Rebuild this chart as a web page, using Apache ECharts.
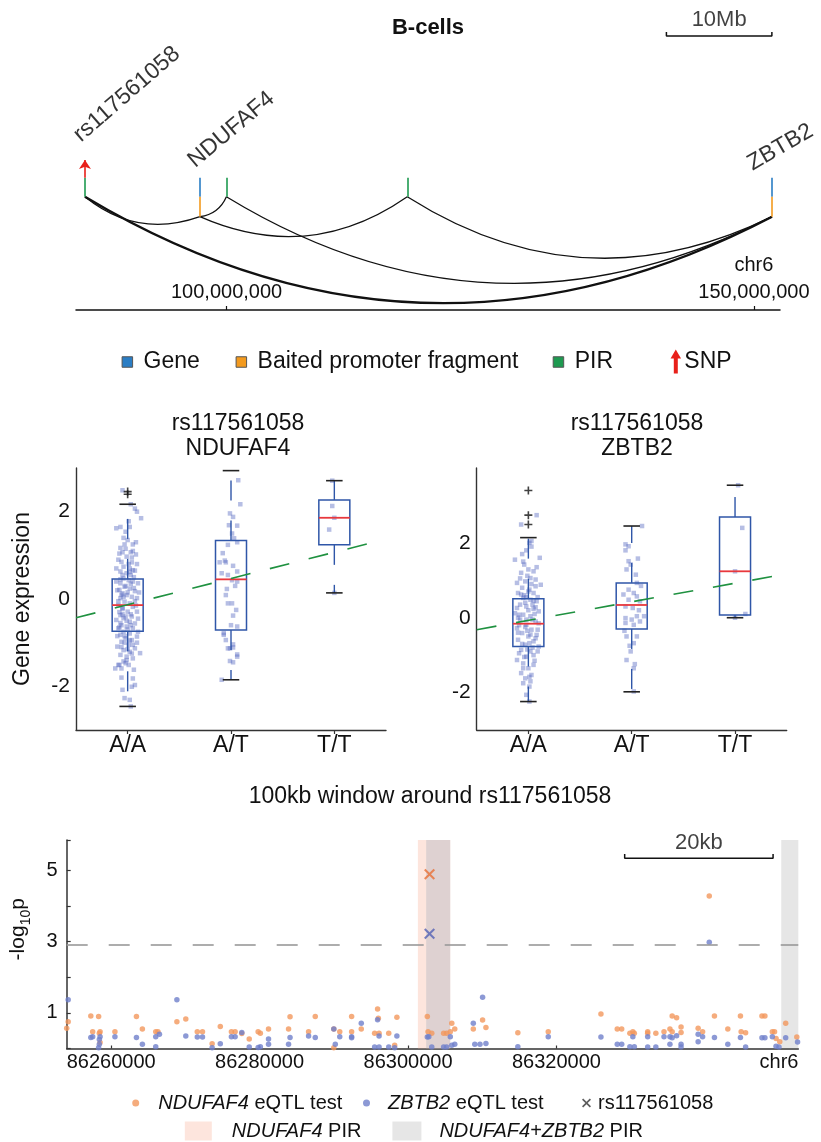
<!DOCTYPE html>
<html>
<head>
<meta charset="utf-8">
<script src="https://cdn.jsdelivr.net/npm/echarts@6/dist/echarts.min.js"></script>
<style>
  html, body { margin: 0; padding: 0; background: #fff; }
  #chart { width: 821px; height: 1142px; }
</style>
</head>
<body>
<div id="chart"></div>
<script>
// ---------- Capture Hi-C interactions on chr6 (B-cells) ----------
const snpId = 'rs117561058';
const chromRange = [85720000, 152470000];
const chromTicks = [100000000, 150000000];
const snpFragmentPos = 86570000;
const ndufaf4Pos = 97470000;
const zbtb2Pos = 151710000;
const pirPositions = [99980000, 117130000];
const baitedPositions = [ndufaf4Pos, zbtb2Pos];
// promoter-interacting pairs [left end, right end]
const interactions = [
  [snpFragmentPos, ndufaf4Pos],
  [ndufaf4Pos, pirPositions[0]],
  [ndufaf4Pos, pirPositions[1]],
  [pirPositions[0], zbtb2Pos],
  [pirPositions[1], zbtb2Pos],
  [snpFragmentPos, zbtb2Pos]
];
const interactionWidths = [1.3, 1.3, 1.3, 1.3, 1.3, 2.4];
const scaleBarChrom = [141700000, 151700000];

// ---------- eQTL box plots ----------
const genotypes = ['A/A', 'A/T', 'T/T'];
// per genotype: [lower adjacent, q1, median, q3, upper adjacent]
const ndufaf4Box = [
  [-2.46, -0.74, -0.14, 0.46, 2.17],
  [-1.85, -0.71, 0.45, 1.34, 2.94],
  [0.14, 1.24, 1.86, 2.27, 2.71]
];
const zbtb2Box = [
  [-2.24, -0.77, -0.16, 0.51, 2.14],
  [-1.98, -0.30, 0.34, 0.93, 2.45],
  [0.00, 0.07, 1.24, 2.69, 3.54]
];
// outliers as [genotype index, value]
const ndufaf4Outliers = [[0, 2.46], [0, 2.40]];
const zbtb2Outliers = [[0, 3.40], [0, 2.74], [0, 2.49]];
// linear fit, values at the left and right edge of the plot
const ndufaf4Fit = [-0.43, 1.37];
const zbtb2Fit = [-0.32, 1.17];

// individual samples per genotype as [jitter, expression]
const ndufaf4Samples = [
  [[-0.05,2.49],[0.03,2.17],[0.07,2.07],[0.09,2.00],[0.13,1.85],[-0.11,1.62],[-0.07,1.65],[0.02,1.65],[-0.02,1.54],[0.00,1.35],
   [0.05,1.25],[-0.07,1.17],[-0.03,1.25],[-0.08,1.04],[-0.05,1.07],[0.03,1.07],[0.08,1.02],[-0.01,0.97],[-0.06,0.85],[0.04,0.84],
   [-0.04,0.74],[0.02,0.70],[0.05,0.66],[-0.07,0.63],[-0.01,0.59],[0.03,0.55],[-0.04,0.47],[0.01,0.43],[-0.11,0.40],[-0.07,0.36],
   [0.05,0.40],[0.10,0.36],[-0.03,0.28],[0.02,0.24],[-0.08,0.21],[0.07,0.18],[-0.05,0.13],[-0.01,0.09],[0.04,0.05],[-0.07,0.02],
   [0.09,0.02],[-0.03,-0.06],[0.02,-0.10],[-0.09,-0.14],[0.05,-0.18],[-0.05,-0.23],[0.00,-0.29],[0.09,-0.29],[-0.07,-0.37],[0.04,-0.40],
   [-0.04,-0.44],[-0.11,-0.48],[0.02,-0.52],[0.07,-0.56],[-0.06,-0.60],[-0.01,-0.63],[-0.09,-0.67],[0.05,-0.67],[-0.04,-0.75],[0.02,-0.79],
   [-0.07,-0.82],[0.09,-0.86],[-0.02,-0.90],[0.04,-0.94],[-0.06,-0.98],[0.01,-1.05],[-0.10,-1.09],[0.07,-1.13],[-0.04,-1.17],[0.02,-1.21],
   [-0.07,-1.28],[-0.01,-1.32],[0.12,-1.24],[0.05,-1.36],[-0.04,-1.43],[-0.08,-1.51],[0.01,-1.51],[-0.06,-1.59],[-0.02,-1.47],[0.05,-1.82],
   [0.04,-2.01],[0.07,-1.97],[-0.05,-2.08],[-0.03,-2.27],[0.02,-2.31],[0.03,-2.46],[-0.09,-1.51],[-0.12,-1.59],
   [-0.02,0.30],[0.06,0.50],[-0.09,0.90],[0.08,1.30],[-0.05,-0.20],[0.03,-0.35],[-0.10,-0.85],[0.10,-0.45],[0.00,-0.70],[-0.06,0.10],
   [0.11,0.15],[-0.03,-1.00],[0.05,-1.05],[-0.08,-0.30],[0.02,0.62],[-0.04,1.40],[0.01,1.78],[-0.11,0.70],[0.09,0.80],[-0.01,-1.40],
   [0.06,-1.62],[-0.06,-1.80],[0.04,0.95],[-0.07,-0.55],[0.07,-0.05],
   [0.00,0.15],[-0.02,-0.40],[0.03,-0.60],[-0.05,0.55],[0.06,0.25],[-0.09,-0.05],[0.10,-0.75],[-0.03,-0.85],[0.01,0.80],[-0.06,-1.10],
   [0.04,-1.25],[-0.10,0.20],[0.08,-0.15],[-0.01,-0.50],[0.05,1.10],[-0.07,0.45],[0.02,-0.95],[-0.04,0.05],[0.07,0.65],[-0.08,-0.65],
   [0.00,-1.15],[0.03,0.35],[-0.05,-0.35],[0.09,-1.00],[-0.02,1.15]],
  [[0.07,2.72],[0.09,2.17],[-0.01,1.96],[0.02,1.88],[-0.02,1.69],[0.06,1.68],[0.01,1.50],[0.03,1.39],[0.06,1.30],[-0.03,1.24],
   [-0.11,0.84],[-0.05,0.84],[0.02,0.76],[-0.09,0.59],[-0.03,0.55],[0.06,0.63],[0.01,0.43],[0.06,0.40],[-0.04,0.23],[-0.05,0.09],
   [-0.03,-0.10],[0.01,-0.10],[0.02,-0.38],[0.00,-0.60],[-0.07,-0.82],[-0.05,-0.94],[-0.01,-1.13],[0.02,-1.11],[0.06,-1.32],[-0.03,-1.13],
   [0.02,-1.45],[-0.09,-1.85],[-0.06,0.88],[0.06,-0.63],[-0.07,-0.78],[0.02,-1.04],[0.06,-1.27],[-0.01,-1.42],[0.04,0.30],[-0.08,1.05],
   [0.05,-0.25]],
  [[-0.02,2.71],[-0.02,2.13],[-0.05,1.59],[0.00,1.86],[0.00,0.14]]
];
const zbtb2Samples = [
  [[0.08,2.74],[-0.07,2.49],[0.03,2.05],[0.01,2.00],[-0.02,1.80],[-0.13,1.55],[0.11,1.60],[-0.04,1.42],[0.00,1.29],[0.05,1.24],
   [-0.07,1.20],[0.02,1.06],[-0.11,0.93],[-0.03,0.97],[0.07,1.02],[0.12,0.88],[-0.06,0.80],[0.01,0.75],[-0.10,0.66],[0.05,0.66],
   [-0.05,0.53],[0.02,0.48],[0.08,0.44],[-0.08,0.35],[-0.02,0.30],[-0.11,0.26],[0.05,0.24],[0.10,0.17],[-0.05,0.08],[0.02,0.04],
   [-0.08,-0.05],[0.07,-0.10],[-0.02,-0.19],[-0.11,-0.28],[0.03,-0.32],[-0.06,-0.41],[0.08,-0.46],[0.00,-0.50],[-0.10,-0.59],[0.05,-0.63],
   [-0.03,-0.72],[0.10,-0.77],[-0.07,-0.86],[0.02,-0.90],[-0.02,-1.04],[-0.11,-1.13],[-0.05,-1.22],[0.05,-1.26],[0.00,-1.35],[-0.07,-1.48],
   [0.03,-1.53],[-0.03,-1.62],[-0.05,-1.75],[0.01,-1.84],[-0.02,-2.06],[0.01,-2.24],[0.07,0.84],[-0.09,0.08],[0.09,-0.32],[-0.13,0.12],
   [-0.04,0.60],[0.06,0.10],[-0.01,-0.35],[0.04,-0.80],[-0.09,-0.95],[0.08,1.35],[-0.06,1.70],[0.02,-1.70],[0.10,-0.15],[-0.03,0.40],
   [0.05,-1.00],[-0.10,-0.40],[0.00,0.70],[0.07,-0.55],[-0.05,-1.35],[0.03,1.90],[-0.02,-0.05],[0.09,0.55],[-0.08,1.05],[0.01,-0.68],
   [0.00,0.20],[-0.03,-0.25],[0.04,0.35],[-0.06,-0.70],[0.06,-1.15],[-0.01,1.12],[0.02,-0.45],[-0.07,0.62],[0.09,-0.90],[-0.04,-1.05],
   [0.03,0.90],[-0.09,-0.20],[0.05,0.45],[-0.01,-0.85],[0.07,0.28],[-0.05,1.50],[0.01,-1.58],[-0.10,0.00],[0.04,-0.05],[-0.02,0.55]],
  [[0.10,2.45],[-0.06,1.96],[-0.03,1.91],[-0.06,1.80],[0.06,1.58],[-0.03,1.51],[-0.01,1.42],[-0.05,1.29],[0.05,0.93],[-0.08,0.62],
   [0.02,0.66],[0.05,0.57],[-0.03,0.48],[0.08,0.44],[-0.06,0.30],[0.01,0.26],[0.12,0.04],[0.05,0.04],[-0.06,-0.01],[0.00,-0.05],
   [0.08,-0.10],[-0.06,-0.14],[0.02,-0.19],[-0.05,-0.50],[0.05,-0.50],[0.02,-0.68],[-0.01,-0.90],[-0.05,-1.13],[0.03,-1.24],[0.02,-1.35],
   [0.02,-1.97],[-0.03,0.75],[0.04,1.15],[-0.07,-0.35],[0.07,0.20],[-0.02,-0.75],[0.09,0.85]],
  [[0.03,3.54],[0.07,2.40],[0.10,0.10],[0.00,0.00],[0.00,1.24]]
];

// ---------- 100kb window around the SNP ----------
const windowRange = [86254000, 86352600];
const windowTicks = [86260000, 86280000, 86300000, 86320000];
const chrLabelPos = 86350000;
const snpPos = 86302900;
const snpNdufaf4P = 4.89;
const snpZbtb2P = 3.22;
const significance = 2.91;
const ndufaf4PirRegion = [86301330, 86305690];
const sharedPirRegions = [[86302450, 86305690], [86350300, 86352600]];
const scaleBarWindow = [86329200, 86349200];
// [position, -log10 p]
const ndufaf4Tests = [
  [86254200,0.75],[86254000,0.57],[86257250,0.91],[86258300,0.90],[86257500,0.47],[86258500,0.47],[86258400,0.43],[86258500,0.17],
  [86260500,0.47],[86263400,0.90],[86264200,0.55],[86266000,0.47],[86266300,0.47],[86268850,0.75],[86270050,0.83],[86271600,0.47],
  [86272300,0.47],[86273600,0.13],[86274700,0.62],[86276200,0.47],[86276700,0.47],[86277600,0.42],[86278600,0.27],[86279800,0.47],
  [86280100,0.43],[86281200,0.55],[86283900,0.55],[86284100,0.89],[86286600,0.47],[86287500,0.90],[86290000,0.55],[86290000,0.02],
  [86290800,0.47],[86292400,0.90],[86292400,0.47],[86293700,0.55],[86295900,1.11],[86296000,0.85],[86295500,0.43],[86296100,0.43],
  [86297400,0.43],[86298200,0.09],[86298500,0.88],[86302600,0.90],[86302700,0.47],[86303200,0.43],[86304800,0.43],[86305200,0.43],
  [86305700,0.47],[86305900,0.71],[86306300,0.55],[86308800,0.55],[86310050,0.80],[86310500,0.59],[86314800,0.44],[86318900,0.47],
  [86326000,0.97],[86328200,0.55],[86328800,0.55],[86329900,0.43],[86330300,0.47],[86330500,0.43],[86332300,0.47],[86332300,0.43],
  [86333400,0.43],[86334500,0.47],[86335300,0.55],[86335600,0.47],[86335600,0.91],[86336200,0.86],[86336800,0.60],[86336800,0.45],
  [86339100,0.57],[86339700,0.47],[86340600,4.28],[86341300,0.91],[86343100,0.55],[86344800,0.91],[86344900,0.47],[86345500,0.44],
  [86347700,0.91],[86348100,0.91],[86349100,0.47],[86349400,0.47],[86349600,0.28],[86350100,0.19],[86350900,0.71],[86352400,0.32]
];
const zbtb2Tests = [
  [86254200,1.37],[86257250,0.31],[86257500,0.33],[86258500,0.33],[86258400,0.25],[86258400,0.12],[86258300,0.02],[86260500,0.33],
  [86263400,0.31],[86264200,0.12],[86266000,0.33],[86266500,0.40],[86266000,0.05],[86268850,1.37],[86270050,0.35],[86271600,0.32],
  [86272300,0.32],[86273600,0.02],[86274700,0.13],[86276200,0.33],[86276700,0.33],[86277600,0.45],[86278600,0.04],[86280100,0.05],
  [86279800,0.03],[86281200,0.27],[86281200,0.12],[86284100,0.31],[86283900,0.12],[86286600,0.35],[86287500,0.31],[86290000,0.55],
  [86290200,0.12],[86290800,0.33],[86292400,0.33],[86292400,0.30],[86293700,0.71],[86295900,0.81],[86296100,0.35],[86295500,0.04],
  [86296100,0.04],[86297400,0.04],[86298200,0.02],[86298500,0.35],[86302600,0.32],[86302800,0.33],[86303200,0.04],[86304800,0.04],
  [86305200,0.04],[86305700,0.33],[86305900,0.09],[86306300,0.12],[86308800,0.71],[86309000,0.12],[86309700,0.12],[86310500,0.14],
  [86310050,1.44],[86314800,0.05],[86318900,0.33],[86326000,0.32],[86328200,0.12],[86328800,0.12],[86330300,0.33],[86329900,0.05],
  [86330500,0.05],[86332300,0.33],[86332300,0.04],[86333400,0.04],[86334500,0.33],[86335300,0.33],[86335600,0.30],[86336200,0.36],
  [86335300,0.12],[86336800,0.12],[86336800,0.04],[86339100,0.40],[86339100,0.19],[86339700,0.33],[86340600,2.98],[86341300,0.31],
  [86343100,0.12],[86344800,0.31],[86345500,0.04],[86347700,0.30],[86348100,0.30],[86349100,0.33],[86349600,0.06],[86350000,0.04],
  [86350900,0.30],[86352500,0.18]
];

// ---------- styling ----------
const FONT = "'Liberation Sans', Arial, Helvetica, sans-serif";
const TEXT = '#111';
const AXIS = '#333';
const GENE_BLUE = '#2a7dc4';
const BAIT_ORANGE = '#f39a1e';
const PIR_GREEN = '#1e9a50';
const SNP_RED = '#e8201a';
const BOX_BLUE = '#2f56a8';
const MEDIAN_RED = '#e8383d';
const CAP_COLOR = '#222';
const FIT_GREEN = '#1f9140';
const SAMPLE_COLOR = 'rgba(72,92,188,0.5)';
const TEST_ORANGE = '#f3975d';
const TEST_BLUE = '#6f7fca';
const X_ORANGE = '#e86f35';
const X_BLUE = '#5462b5';
const BOX_WIDTH = 0.3;
const CAP_WIDTH = 0.16;
// vertical levels of the interaction track (grid 0, 10 px per unit)
const TRACK = { top: 13.23, mid: 11.33, bottom: 9.33, arrow: 15.0, label: 13.8, snpLabel: 16.3, bar: 27.4, barTick: 27.8 };

const PLUS = 'path://M4,0H6V4H10V6H6V10H4V6H0V4H4Z';
const CROSS = 'path://M0,1.3L1.3,0L5,3.7L8.7,0L10,1.3L6.3,5L10,8.7L8.7,10L5,6.3L1.3,10L0,8.7L3.7,5Z';
const ARROW = 'path://M3.5,0L7,6H4.5V21H2.5V6H0Z';

const anchorLevel = (p) => (baitedPositions.indexOf(p) >= 0 ? TRACK.bottom : TRACK.mid);
const withCommas = (v) => String(v).replace(/\B(?=(\d{3})+(?!\d))/g, ',');

function markerLines(name, positions, from, to, color, extra) {
  return Object.assign({
    name, type: 'lines', coordinateSystem: 'cartesian2d', xAxisIndex: 0, yAxisIndex: 0, z: 4, silent: true,
    lineStyle: { color, width: 1.6, curveness: 0, opacity: 1 },
    data: positions.map((p) => ({ coords: [[p, from], [p, to]] }))
  }, extra || {});
}

function boxSeries(stats, idx) {
  return {
    type: 'custom', xAxisIndex: idx, yAxisIndex: idx, z: 4, silent: true,
    data: stats.map((s, g) => [g].concat(s)),
    encode: { x: 0, y: [1, 2, 3, 4, 5] },
    renderItem: function (params, api) {
      const g = api.value(0);
      const lo = api.coord([g, api.value(1)]);
      const q1 = api.coord([g, api.value(2)]);
      const med = api.coord([g, api.value(3)]);
      const q3 = api.coord([g, api.value(4)]);
      const hi = api.coord([g, api.value(5)]);
      const hb = api.size([BOX_WIDTH, 0])[0] / 2;
      const hc = api.size([CAP_WIDTH, 0])[0] / 2;
      const x = q1[0];
      const whisker = { stroke: BOX_BLUE, lineWidth: 1.4, lineDash: [20, 20], fill: null };
      const cap = { stroke: CAP_COLOR, lineWidth: 1.6, fill: null };
      return {
        type: 'group',
        children: [
          { type: 'line', shape: { x1: x, y1: q3[1], x2: x, y2: hi[1] }, style: whisker },
          { type: 'line', shape: { x1: x, y1: q1[1], x2: x, y2: lo[1] }, style: whisker },
          { type: 'line', shape: { x1: x - hc, y1: hi[1], x2: x + hc, y2: hi[1] }, style: cap },
          { type: 'line', shape: { x1: x - hc, y1: lo[1], x2: x + hc, y2: lo[1] }, style: cap },
          { type: 'rect', shape: { x: x - hb, y: q3[1], width: hb * 2, height: q1[1] - q3[1] },
            style: { fill: 'transparent', stroke: BOX_BLUE, lineWidth: 1.5 } },
          { type: 'line', shape: { x1: x - hb, y1: med[1], x2: x + hb, y2: med[1] },
            style: { stroke: MEDIAN_RED, lineWidth: 1.8, fill: null } }
        ]
      };
    }
  };
}

function expressionSeries(samples, box, outliers, fit, idx) {
  return [
    {
      type: 'scatter', xAxisIndex: idx, yAxisIndex: idx, z: 2, silent: true,
      symbol: 'rect', symbolSize: 4.5, itemStyle: { color: SAMPLE_COLOR },
      data: samples.flatMap((pts, g) => pts.map(([j, v]) => [g + j, v]))
    },
    boxSeries(box, idx),
    {
      type: 'scatter', xAxisIndex: idx, yAxisIndex: idx, z: 5, silent: true,
      symbol: PLUS, symbolSize: 8, itemStyle: { color: '#111' }, data: outliers
    },
    {
      type: 'line', xAxisIndex: idx, yAxisIndex: idx, z: 6, silent: true, symbol: 'none',
      lineStyle: { color: FIT_GREEN, width: 1.6, type: [20, 20] },
      data: [[-0.5, fit[0]], [2.5, fit[1]]]
    }
  ];
}

function genotypeXAxis(idx) {
  return {
    type: 'value', gridIndex: idx, min: -0.5, max: 2.5,
    axisLine: { show: true, onZero: false, lineStyle: { color: AXIS, width: 1.4 } },
    axisTick: { show: true, customValues: [0, 1, 2], length: 4, lineStyle: { color: AXIS, width: 1.2 } },
    axisLabel: { customValues: [0, 1, 2], formatter: (v) => genotypes[v], fontSize: 23, color: TEXT, margin: 4, fontFamily: FONT },
    splitLine: { show: false }
  };
}

function expressionYAxis(idx, max, extra) {
  return Object.assign({
    type: 'value', gridIndex: idx, min: -3, max: max,
    axisLine: { show: true, onZero: false, lineStyle: { color: AXIS, width: 1.4 } },
    axisTick: { show: false },
    axisLabel: { customValues: [-2, 0, 2], fontSize: 21, color: TEXT, margin: 6, fontFamily: FONT },
    splitLine: { show: false }
  }, extra || {});
}

function legendEntry(name, left, top, cfg) {
  return {
    left, top, padding: 0, itemGap: 0, selectedMode: false, orient: 'horizontal',
    itemWidth: cfg.w, itemHeight: cfg.h, symbolKeepAspect: false,
    data: [{ name, icon: cfg.icon, itemStyle: cfg.itemStyle }],
    formatter: cfg.formatter,
    textStyle: {
      fontSize: cfg.fontSize, color: TEXT, fontFamily: FONT, lineHeight: cfg.lh,
      padding: [0, 0, 0, cfg.gap],
      rich: { i: { fontStyle: 'italic', fontSize: cfg.fontSize, fontFamily: FONT, color: TEXT, lineHeight: cfg.lh } }
    }
  };
}
const italicGenes = (name) => name.replace(/(NDUFAF4|ZBTB2)/g, '{i|$1}');
const square = (color) => ({ icon: 'rect', w: 10.5, h: 10.5, fontSize: 23, lh: 24, gap: 6,
  itemStyle: { color, borderColor: '#555', borderWidth: 1 } });

const option = {
  animation: false,
  backgroundColor: '#fff',
  textStyle: { fontFamily: FONT, color: TEXT },
  graphic: [
    { type: 'text', x: 428, y: 28, silent: true,
      style: { text: 'B-cells', fill: TEXT, font: 'bold 22px ' + FONT, align: 'center', verticalAlign: 'middle' } },
    { type: 'text', x: 238, y: 436, silent: true,
      style: { text: snpId + '\nNDUFAF4', fill: TEXT, font: '23px ' + FONT, lineHeight: 24.5, align: 'center', verticalAlign: 'middle' } },
    { type: 'text', x: 637, y: 436, silent: true,
      style: { text: snpId + '\nZBTB2', fill: TEXT, font: '23px ' + FONT, lineHeight: 24.5, align: 'center', verticalAlign: 'middle' } },
    { type: 'text', x: 430, y: 797, silent: true,
      style: { text: '100kb window around ' + snpId, fill: TEXT, font: '23px ' + FONT, align: 'center', verticalAlign: 'middle' } }
  ],
  legend: [
    legendEntry('Gene', 121.6, 350, square(GENE_BLUE)),
    legendEntry('Baited promoter fragment', 235.6, 350, square(BAIT_ORANGE)),
    legendEntry('PIR', 552.7, 350, square(PIR_GREEN)),
    legendEntry('SNP', 671.3, 350, { icon: ARROW, w: 7, h: 21, fontSize: 23, lh: 24, gap: 0, itemStyle: { color: SNP_RED } }),
    legendEntry('NDUFAF4 eQTL test', 132.2, 1092, { icon: 'circle', w: 7, h: 7, fontSize: 20, lh: 22, gap: 14,
      itemStyle: { color: TEST_ORANGE }, formatter: italicGenes }),
    legendEntry('ZBTB2 eQTL test', 363, 1092, { icon: 'circle', w: 7, h: 7, fontSize: 20, lh: 22, gap: 13,
      itemStyle: { color: TEST_BLUE }, formatter: italicGenes }),
    legendEntry(snpId, 582, 1092, { icon: CROSS, w: 9, h: 9, fontSize: 20, lh: 22, gap: 2,
      itemStyle: { color: '#333' } }),
    legendEntry('NDUFAF4 PIR', 184.8, 1120, { icon: 'rect', w: 27, h: 19, fontSize: 20, lh: 22, gap: 15,
      itemStyle: { color: '#fde5dd' }, formatter: italicGenes }),
    legendEntry('NDUFAF4+ZBTB2 PIR', 392.4, 1120, { icon: 'rect', w: 29, h: 19, fontSize: 20, lh: 22, gap: 13,
      itemStyle: { color: '#e6e6e6' }, formatter: italicGenes })
  ],
  grid: [
    { left: 76, right: 41, top: 10, height: 300, outerBoundsMode: 'none', containLabel: false },
    { left: 76, width: 310, top: 468, height: 262, outerBoundsMode: 'none', containLabel: false },
    { left: 476.7, width: 310, top: 468, height: 262, outerBoundsMode: 'none', containLabel: false },
    { left: 66.7, width: 731.6, top: 840, height: 208.5, outerBoundsMode: 'none', containLabel: false }
  ],
  xAxis: [
    {
      type: 'value', gridIndex: 0, min: chromRange[0], max: chromRange[1],
      axisLine: { show: true, onZero: false, lineStyle: { color: '#111', width: 1.5 } },
      axisTick: { show: true, inside: true, customValues: chromTicks, length: 4, lineStyle: { color: '#111', width: 1.2 } },
      axisLabel: {
        inside: true, margin: 4, customValues: chromTicks, fontSize: 20, lineHeight: 27, color: TEXT, fontFamily: FONT,
        formatter: (v) => (v === chromTicks[chromTicks.length - 1] ? 'chr6\n' : '') + withCommas(v)
      },
      splitLine: { show: false }
    },
    genotypeXAxis(1),
    genotypeXAxis(2),
    {
      type: 'value', gridIndex: 3, min: windowRange[0], max: windowRange[1],
      axisLine: { show: true, onZero: false, lineStyle: { color: AXIS, width: 1.5 } },
      axisTick: { show: true, inside: true, customValues: windowTicks, length: 3, lineStyle: { color: AXIS, width: 1.2 } },
      axisLabel: {
        customValues: windowTicks.concat([chrLabelPos]), fontSize: 20, color: TEXT, margin: 4, fontFamily: FONT,
        formatter: (v) => (v === chrLabelPos ? 'chr6' : String(v))
      },
      splitLine: { show: false }
    }
  ],
  yAxis: [
    { type: 'value', gridIndex: 0, min: 0, max: 30, show: false },
    expressionYAxis(1, 3, {
      name: 'Gene expression', nameLocation: 'middle', nameGap: 42,
      nameTextStyle: { fontSize: 23, color: TEXT, fontFamily: FONT }
    }),
    expressionYAxis(2, 4),
    {
      type: 'value', gridIndex: 3, min: 0, max: 5.85, interval: 1,
      axisLine: { show: true, onZero: false, lineStyle: { color: AXIS, width: 1.5 } },
      axisTick: { show: true, inside: true, length: 4, lineStyle: { color: AXIS, width: 1.2 } },
      axisLabel: { customValues: [1, 3, 5], fontSize: 20, color: TEXT, margin: 9, fontFamily: FONT },
      splitLine: { show: false },
      name: '-log{sub|10}p', nameLocation: 'middle', nameGap: 34,
      nameTextStyle: {
        fontSize: 21, color: TEXT, fontFamily: FONT, lineHeight: 28, padding: [0, 0, 0, 30],
        rich: { sub: { fontSize: 14, fontFamily: FONT, color: TEXT, lineHeight: 14, verticalAlign: 'bottom' } }
      }
    }
  ],
  series: [
    // interaction arcs hanging below the fragments
    {
      type: 'lines', coordinateSystem: 'cartesian2d', xAxisIndex: 0, yAxisIndex: 0, z: 3, silent: true,
      lineStyle: { color: '#111', width: 1.3, curveness: -0.28, opacity: 1 },
      data: interactions.map((pair, i) => ({
        coords: [[pair[0], anchorLevel(pair[0])], [pair[1], anchorLevel(pair[1])]],
        lineStyle: { width: interactionWidths[i] }
      }))
    },
    markerLines('Gene', baitedPositions, TRACK.top, TRACK.mid, GENE_BLUE),
    markerLines('Baited promoter fragment', baitedPositions, TRACK.mid, TRACK.bottom, BAIT_ORANGE),
    markerLines('PIR', [snpFragmentPos].concat(pirPositions), TRACK.top, TRACK.mid, PIR_GREEN),
    markerLines('SNP', [snpFragmentPos], TRACK.top, TRACK.arrow, SNP_RED, { symbol: ['none', 'arrow'], symbolSize: 9 }),
    // rotated feature names
    {
      type: 'scatter', xAxisIndex: 0, yAxisIndex: 0, z: 5, silent: true, symbolSize: 1,
      itemStyle: { color: 'rgba(0,0,0,0)' },
      label: { show: true, formatter: '{b}', position: [0, 0], align: 'left', verticalAlign: 'bottom',
        fontSize: 23, color: '#000', fontFamily: FONT },
      data: [
        { name: snpId, value: [snpFragmentPos, TRACK.snpLabel], label: { rotate: 41, offset: [0, 0] } },
        { name: 'NDUFAF4', value: [ndufaf4Pos, TRACK.label], label: { rotate: 40, offset: [-1, 0] } },
        { name: 'ZBTB2', value: [zbtb2Pos, TRACK.label], label: { rotate: 30, offset: [-16, -5] } }
      ]
    },
    // 10Mb scale bar
    {
      type: 'line', xAxisIndex: 0, yAxisIndex: 0, z: 4, silent: true, symbol: 'none',
      lineStyle: { color: '#111', width: 1.5 },
      data: [[scaleBarChrom[0], TRACK.barTick], [scaleBarChrom[0], TRACK.bar], [scaleBarChrom[1], TRACK.bar], [scaleBarChrom[1], TRACK.barTick]]
    },
    {
      type: 'scatter', xAxisIndex: 0, yAxisIndex: 0, z: 4, silent: true, symbolSize: 1, itemStyle: { color: 'rgba(0,0,0,0)' },
      label: { show: true, position: 'top', distance: 5, fontSize: 22, color: TEXT, fontFamily: FONT,
        formatter: () => (scaleBarChrom[1] - scaleBarChrom[0]) / 1e6 + 'Mb' },
      data: [[(scaleBarChrom[0] + scaleBarChrom[1]) / 2, TRACK.bar]]
    },

    ...expressionSeries(ndufaf4Samples, ndufaf4Box, ndufaf4Outliers, ndufaf4Fit, 1),
    ...expressionSeries(zbtb2Samples, zbtb2Box, zbtb2Outliers, zbtb2Fit, 2),

    // PIR regions in the 100kb window
    {
      name: 'NDUFAF4 PIR', type: 'line', xAxisIndex: 3, yAxisIndex: 3, z: 1, silent: true, data: [],
      itemStyle: { color: '#fde5dd' },
      markArea: { silent: true, itemStyle: { color: 'rgba(250,190,170,0.4)' },
        data: [[{ xAxis: ndufaf4PirRegion[0] }, { xAxis: ndufaf4PirRegion[1] }]] }
    },
    {
      name: 'NDUFAF4+ZBTB2 PIR', type: 'line', xAxisIndex: 3, yAxisIndex: 3, z: 1, silent: true, data: [],
      itemStyle: { color: '#e6e6e6' },
      markArea: { silent: true,
        data: sharedPirRegions.map((r, i) => [
          { xAxis: r[0], itemStyle: { color: i === 0 ? 'rgba(172,176,188,0.38)' : 'rgba(128,128,128,0.2)' } },
          { xAxis: r[1] }
        ]) }
    },
    {
      name: 'NDUFAF4 eQTL test', type: 'scatter', xAxisIndex: 3, yAxisIndex: 3, z: 3, silent: true,
      symbol: 'circle', symbolSize: 5.5, itemStyle: { color: TEST_ORANGE }, data: ndufaf4Tests,
      markLine: { silent: true, symbol: 'none', label: { show: false },
        lineStyle: { color: '#999', width: 1.6, type: [21, 21] }, data: [{ yAxis: significance }] }
    },
    {
      name: 'ZBTB2 eQTL test', type: 'scatter', xAxisIndex: 3, yAxisIndex: 3, z: 3, silent: true,
      symbol: 'circle', symbolSize: 5.5, itemStyle: { color: TEST_BLUE }, data: zbtb2Tests
    },
    {
      name: snpId, type: 'scatter', xAxisIndex: 3, yAxisIndex: 3, z: 5, silent: true,
      symbol: CROSS, symbolSize: 11,
      data: [
        { value: [snpPos, snpNdufaf4P], itemStyle: { color: X_ORANGE } },
        { value: [snpPos, snpZbtb2P], itemStyle: { color: X_BLUE } }
      ]
    },
    // 20kb scale bar
    {
      type: 'line', xAxisIndex: 3, yAxisIndex: 3, z: 4, silent: true, symbol: 'none',
      lineStyle: { color: '#111', width: 1.5 },
      data: [[scaleBarWindow[0], 5.46], [scaleBarWindow[0], 5.34], [scaleBarWindow[1], 5.34], [scaleBarWindow[1], 5.46]]
    },
    {
      type: 'scatter', xAxisIndex: 3, yAxisIndex: 3, z: 4, silent: true, symbolSize: 1, itemStyle: { color: 'rgba(0,0,0,0)' },
      label: { show: true, position: 'top', distance: 4, fontSize: 22, color: TEXT, fontFamily: FONT,
        formatter: () => (scaleBarWindow[1] - scaleBarWindow[0]) / 1000 + 'kb' },
      data: [[(scaleBarWindow[0] + scaleBarWindow[1]) / 2, 5.34]]
    }
  ]
};

const chart = echarts.init(document.getElementById('chart'), null, { renderer: 'canvas', width: 821, height: 1142 });
chart.setOption(option);
</script>
</body>
</html>
